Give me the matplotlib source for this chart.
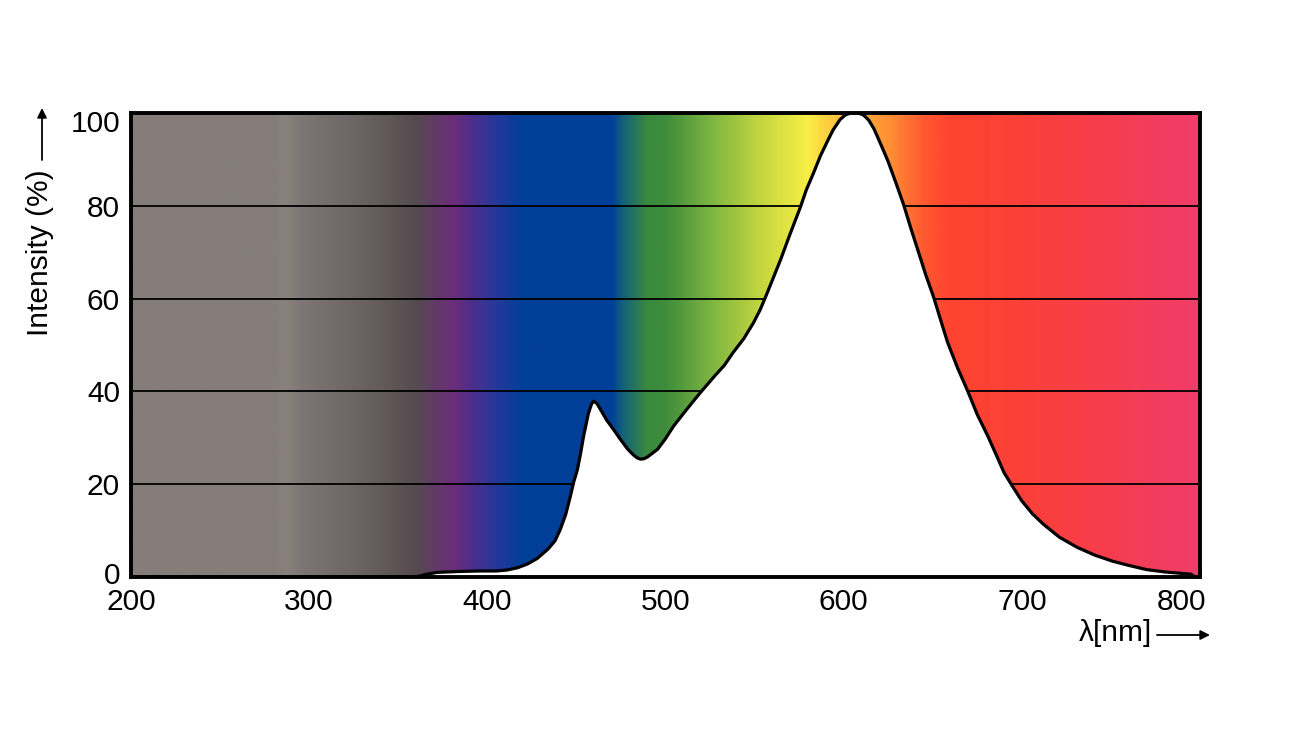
import matplotlib
matplotlib.use('Agg')
import matplotlib.pyplot as plt
import matplotlib.transforms as mtransforms
from matplotlib.colors import LinearSegmentedColormap
import numpy as np

plt.rcParams['font.family'] = ['Liberation Sans', 'DejaVu Sans']

# Spectrum readings (wavelength in nm, relative intensity in %)
wavelength = [200, 360, 366, 372, 385, 396, 405, 411, 417, 422.5, 428, 434, 438, 441,
              444, 446.6, 448.5, 450.6, 452.5, 454, 456.7, 458.5, 459.6, 461.5, 463.5, 467,
              470.8, 475, 478.7, 482, 484, 486, 488, 490, 495.5, 500, 504.5, 510, 515,
              519.7, 528, 533, 538, 544, 549.4, 553, 556, 560, 564.6, 570, 575.8, 579,
              583, 587, 591, 594, 598, 601, 604, 608, 611, 614, 617, 620, 624.7, 629,
              633.7, 637.5, 641.6, 646, 650.6, 654.5, 658.4, 664, 669.7, 675, 681, 686,
              690, 695, 700, 706, 712, 721, 731, 741, 751, 760, 770, 780, 789, 795, 797,
              800]
intensity = [0, 0, 0.6, 1.0, 1.2, 1.3, 1.3, 1.5, 2.0, 2.8, 4.0, 6.0, 7.8, 10.3,
             13.5, 17.4, 20.5, 23.2, 27.0, 30.3, 35.2, 37.3, 37.9, 37.4, 36.1, 33.8,
             31.8, 29.5, 27.6, 26.3, 25.7, 25.4, 25.5, 25.9, 27.5, 29.8, 32.5, 35.2,
             37.6, 39.8, 43.5, 45.6, 48.4, 51.4, 54.8, 57.5, 60.2, 64.0, 68.4, 74.0,
             79.8, 83.4, 87.0, 90.8, 94.0, 96.3, 98.6, 99.6, 100, 100, 99.6, 98.5,
             96.6, 94.0, 89.8, 85.3, 80.2, 75.4, 70.5, 65.2, 60.2, 55.3, 50.5, 45.0,
             40.0, 35.0, 30.3, 26.0, 22.5, 19.4, 16.4, 13.6, 11.4, 8.6, 6.4, 4.7, 3.4,
             2.5, 1.6, 1.1, 0.8, 0.6, 0, 0]

# background colour stops along the wavelength axis
stop_nm = [200, 280, 287, 295, 330, 360, 372, 381, 392, 405, 420, 470, 476, 490,
           500, 525, 552, 580, 590, 610, 625, 645, 660, 700, 733, 800]
stop_colors = ['#857d7a', '#857d7a', '#88827c', '#7f7776', '#6a6262', '#554b4e',
               '#64386a', '#6c2d78', '#4a2f8c', '#25389a', '#003f98', '#003f98',
               '#13617a', '#3a8a3c', '#3e8c3c', '#7ab441', '#c0d43f', '#f8ef45',
               '#fdd040', '#ffa83a', '#ff9236', '#ff5a30', '#ff4430', '#fb4039',
               '#f83e46', '#f03c6a']

xticks = [200, 300, 400, 500, 600, 700, 800]
yticks = [0, 20, 40, 60, 80, 100]
grid_levels = [20, 40, 60, 80]

W, H = 1303, 735
fig = plt.figure(figsize=(W / 100, H / 100), dpi=100)
ax = fig.add_axes([131 / W, (H - 577) / H, (1200 - 131) / W, (577 - 113) / H])

pos = [(v - stop_nm[0]) / (stop_nm[-1] - stop_nm[0]) for v in stop_nm]
cmap = LinearSegmentedColormap.from_list('spec', list(zip(pos, stop_colors)), N=1024)
grad = np.linspace(200, 800, 1200)[np.newaxis, :]
ax.imshow(grad, extent=[200, 800, 0, 100], aspect='auto', cmap=cmap,
          vmin=200, vmax=800, origin='lower', zorder=0, interpolation='bilinear')

ax.hlines(grid_levels, 200, 800, colors='black', linewidth=1.3, zorder=1)
ax.fill_between(wavelength, intensity, 0, color='white', zorder=2, linewidth=0)
ax.plot(wavelength, intensity, color='black', linewidth=2.3, zorder=3,
        solid_joinstyle='round', solid_capstyle='round')

ax.set_xlim(200, 800)
ax.set_ylim(0, 100)
ax.set_xticks(xticks)
ax.set_yticks(yticks)
ax.set_xticklabels([str(v) for v in xticks])
ax.set_yticklabels([str(v) for v in yticks])
ax.tick_params(length=0, labelsize=21.5, colors='black')
ax.tick_params(axis='y', pad=8)
ax.tick_params(axis='x', pad=8)
for s in ax.spines.values():
    s.set_linewidth(2.8)
    s.set_zorder(5)

# nudge end labels like the original
lab = ax.get_xticklabels()[-1]
lab.set_transform(lab.get_transform() + mtransforms.ScaledTranslation(-0.18, 0, fig.dpi_scale_trans))
lab = ax.get_yticklabels()[-1]
lab.set_transform(lab.get_transform() + mtransforms.ScaledTranslation(0, -0.08, fig.dpi_scale_trans))
lab = ax.get_yticklabels()[0]
lab.set_transform(lab.get_transform() + mtransforms.ScaledTranslation(0, 0.04, fig.dpi_scale_trans))

# axis titles with arrows
fig.text(40 / W, (H - 253) / H, 'Intensity (%)', rotation=90, ha='center', va='center', fontsize=21.5)
fig.text(1115 / W, (H - 633) / H, 'λ[nm]', ha='center', va='center', fontsize=21.5)
arrow = dict(arrowstyle='-|>', color='black', lw=1.3, mutation_scale=14, shrinkA=0, shrinkB=0)
ax.annotate('', xy=(42 / W, (H - 108) / H), xytext=(42 / W, (H - 160) / H),
            xycoords='figure fraction', textcoords='figure fraction', arrowprops=arrow)
ax.annotate('', xy=(1210 / W, (H - 635) / H), xytext=(1157 / W, (H - 635) / H),
            xycoords='figure fraction', textcoords='figure fraction', arrowprops=arrow)

fig.savefig('out.png', dpi=100)
